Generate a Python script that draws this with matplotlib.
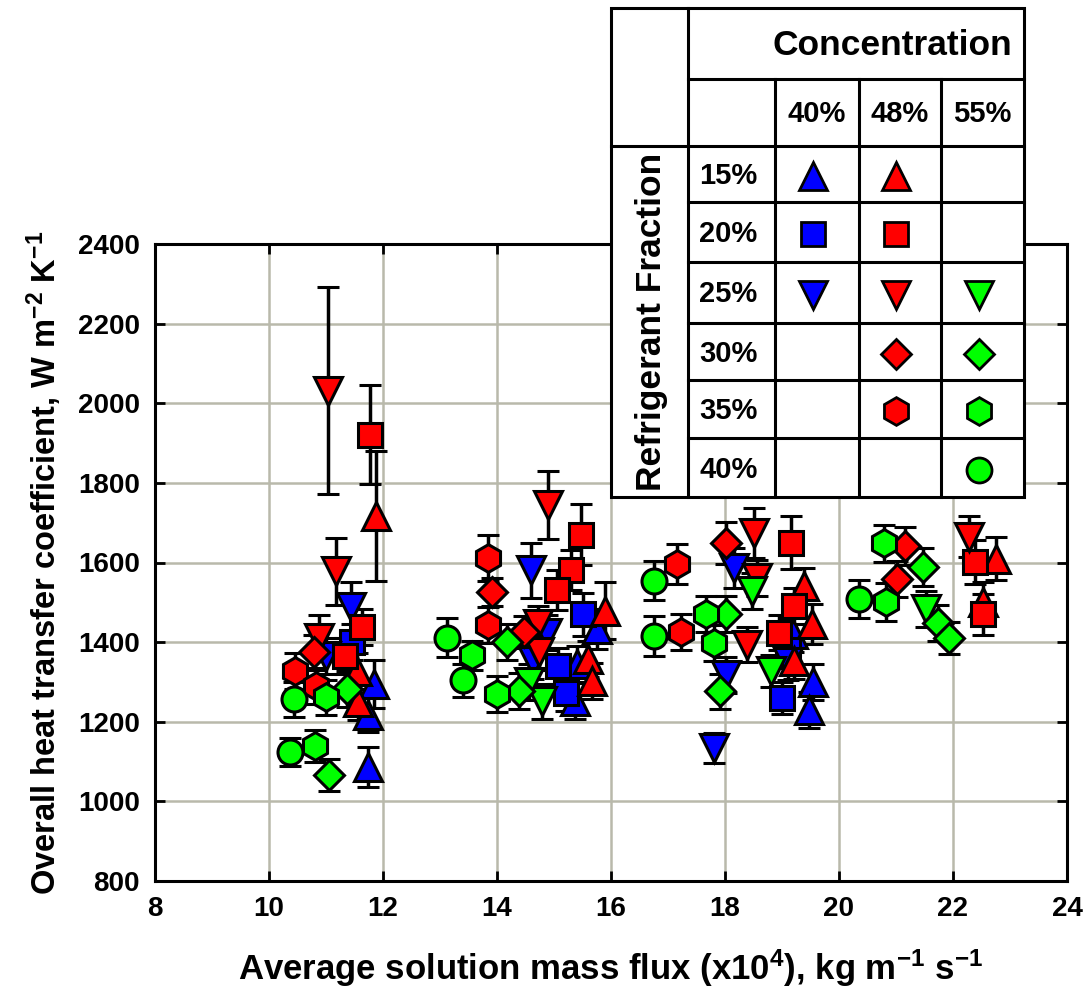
import matplotlib
matplotlib.use("Agg")
import matplotlib.pyplot as plt
from matplotlib.patches import Rectangle

plt.rcParams['font.family'] = ['Liberation Sans', 'DejaVu Sans']
plt.rcParams['font.weight'] = 'bold'
plt.rcParams['mathtext.fontset'] = 'custom'
plt.rcParams['mathtext.rm'] = 'Liberation Sans:bold'
plt.rcParams['mathtext.default'] = 'rm'

# ---- data: (mass flux x1e4, U, error) per concentration / refrigerant fraction
# 40% concentration (blue)
b15_x = [11.84, 11.73, 11.74, 15.75, 15.37, 15.40, 19.55, 19.47, 19.20]
b15_y = [1294, 1218, 1086, 1433, 1253, 1345, 1300, 1230, 1420]
b15_e = [60, 45, 50, 50, 45, 45, 45, 45, 45]
b20_x = [11.46, 15.50, 15.07, 15.21, 19.00, 19.10]
b20_y = [1400, 1470, 1340, 1273, 1260, 1380]
b20_e = [45, 54, 45, 45, 40, 45]
b25_x = [11.43, 11.00, 14.60, 14.88, 14.64, 18.16, 18.01, 17.81, 19.10]
b25_y = [1488, 1365, 1580, 1424, 1353, 1587, 1318, 1134, 1350]
b25_e = [63, 45, 68, 45, 45, 50, 45, 38, 45]
# 48% concentration (red)
r15_x = [11.87, 11.55, 11.57, 15.90, 15.60, 15.67, 19.39, 19.53, 19.21, 22.75, 22.53]
r15_y = [1716, 1327, 1250, 1479, 1357, 1303, 1541, 1445, 1352, 1610, 1500]
r15_e = [163, 45, 45, 72, 45, 45, 45, 50, 45, 55, 50]
r20_x = [11.77, 11.63, 11.33, 15.48, 15.30, 15.05, 19.15, 19.21, 18.95, 22.39, 22.53]
r20_y = [1921, 1438, 1366, 1670, 1582, 1530, 1650, 1491, 1424, 1602, 1470]
r20_e = [125, 45, 45, 77, 50, 50, 67, 45, 45, 55, 51]
r25_x = [11.04, 11.18, 10.88, 14.90, 14.72, 14.73, 18.51, 18.57, 18.39, 22.28]
r25_y = [2032, 1578, 1411, 1745, 1446, 1376, 1675, 1562, 1394, 1665]
r25_e = [260, 84, 58, 85, 45, 45, 63, 45, 45, 51]
r30_x = [10.79, 13.91, 14.47, 18.01, 21.16, 21.01]
r30_y = [1374, 1525, 1425, 1648, 1641, 1559]
r30_e = [45, 35, 40, 53, 47, 45]
r35_x = [10.45, 10.82, 13.84, 13.85, 17.16, 17.22]
r35_y = [1328, 1290, 1612, 1442, 1597, 1426]
r35_e = [45, 45, 58, 45, 50, 45]
# 55% concentration (green)
g25_x = [14.79, 14.56, 18.47, 18.80, 21.52]
g25_y = [1251, 1300, 1529, 1327, 1483]
g25_e = [45, 45, 45, 40, 45]
g30_x = [11.36, 11.06, 14.18, 14.38, 18.02, 17.92, 21.48, 21.73, 21.93]
g30_y = [1282, 1067, 1400, 1277, 1470, 1276, 1589, 1449, 1411]
g30_e = [45, 40, 45, 45, 45, 45, 48, 45, 40]
g35_x = [11.00, 10.81, 13.56, 14.00, 17.67, 17.81, 20.79, 20.82]
g35_y = [1261, 1140, 1367, 1270, 1470, 1398, 1648, 1500]
g35_e = [45, 40, 37, 45, 45, 45, 47, 48]
g40_x = [10.44, 10.36, 13.12, 13.41, 16.75, 16.75, 20.35]
g40_y = [1256, 1125, 1411, 1304, 1554, 1415, 1508]
g40_e = [45, 35, 49, 42, 49, 50, 47]

concentrations = ['40%', '48%', '55%']
fractions = ['15%', '20%', '25%', '30%', '35%', '40%']
colors = {'40%': '#0000ff', '48%': '#ff0000', '55%': '#00ff00'}
markers = {'15%': ('^', 20), '20%': ('s', 17), '25%': ('v', 20),
           '30%': ('D', 15.5), '35%': ('h', 20), '40%': ('o', 18)}

series = [('40%', '15%', b15_x, b15_y, b15_e),
          ('40%', '20%', b20_x, b20_y, b20_e),
          ('40%', '25%', b25_x, b25_y, b25_e),
          ('48%', '15%', r15_x, r15_y, r15_e),
          ('48%', '20%', r20_x, r20_y, r20_e),
          ('48%', '25%', r25_x, r25_y, r25_e),
          ('48%', '30%', r30_x, r30_y, r30_e),
          ('48%', '35%', r35_x, r35_y, r35_e),
          ('55%', '25%', g25_x, g25_y, g25_e),
          ('55%', '30%', g30_x, g30_y, g30_e),
          ('55%', '35%', g35_x, g35_y, g35_e),
          ('55%', '40%', g40_x, g40_y, g40_e)]

fig = plt.figure(figsize=(10.89, 10.0), dpi=100)
ax = fig.add_axes([155 / 1089, 1 - 881 / 1000, 912 / 1089, 637 / 1000])

for conc, frac, xs, ys, es in series:
    mk, ms = markers[frac]
    ax.errorbar(xs, ys, yerr=es, fmt=mk, ms=ms, mfc=colors[conc],
                mec='black', mew=2.2, ecolor='black', elinewidth=2.5,
                capsize=8, capthick=2.5, zorder=3)

ax.set_xlim(8, 24)
ax.set_ylim(800, 2400)
ax.set_xticks(range(8, 25, 2))
ax.set_yticks(range(800, 2401, 200))
ax.grid(True, color='#b9b9ab', linewidth=1.8, zorder=0)
ax.set_axisbelow(True)
ax.tick_params(direction='in', length=7, width=2, labelsize=20,
               top=True, right=True, pad=11)
for sp in ax.spines.values():
    sp.set_linewidth(2.2)
ax.set_xlabel('Average solution mass flux (x10$^{4}$), kg m$^{-1}$ s$^{-1}$',
              fontsize=25, fontweight='bold', labelpad=18)
ax.set_ylabel('Overall heat transfer coefficient, W m$^{-2}$ K$^{-1}$',
              fontsize=23.5, fontweight='bold', labelpad=10)

# ---- legend table drawn in pixel space
tab = fig.add_axes([0, 0, 1, 1], zorder=5)
tab.set_xlim(0, 1089)
tab.set_ylim(1000, 0)
tab.axis('off')
col_edges = [611, 688, 775, 859, 941, 1024]
row_edges = [8, 79, 146, 202, 262, 323, 380, 438, 497]
lw = 2.2
tab.add_patch(Rectangle((col_edges[0], row_edges[0]),
                        col_edges[-1] - col_edges[0],
                        row_edges[-1] - row_edges[0],
                        facecolor='white', edgecolor='black', linewidth=lw))
tab.plot([col_edges[1]] * 2, [row_edges[0], row_edges[-1]], color='black', lw=lw)
for cx in col_edges[2:5]:
    tab.plot([cx, cx], [row_edges[1], row_edges[-1]], color='black', lw=lw)
tab.plot([col_edges[1], col_edges[-1]], [row_edges[1]] * 2, color='black', lw=lw)
tab.plot([col_edges[0], col_edges[-1]], [row_edges[2]] * 2, color='black', lw=lw)
for ry in row_edges[3:-1]:
    tab.plot([col_edges[1], col_edges[-1]], [ry, ry], color='black', lw=lw)

tab.text(892, (row_edges[0] + row_edges[1]) / 2 + 2, 'Concentration',
         fontsize=25.5, fontweight='bold', ha='center', va='center')
tab.text((col_edges[0] + col_edges[1]) / 2 + 2, (row_edges[2] + row_edges[-1]) / 2,
         'Refrigerant Fraction', fontsize=25.5, fontweight='bold',
         rotation=90, ha='center', va='center')
for i, c in enumerate(concentrations):
    tab.text((col_edges[i + 2] + col_edges[i + 3]) / 2, (row_edges[1] + row_edges[2]) / 2 + 2,
             c, fontsize=21, fontweight='bold', ha='center', va='center')
for j, f in enumerate(fractions):
    yc = (row_edges[j + 2] + row_edges[j + 3]) / 2
    tab.text((col_edges[1] + col_edges[2]) / 2 - 3, yc + 2, f,
             fontsize=21, fontweight='bold', ha='center', va='center')

for conc, frac, xs, ys, es in series:
    i = concentrations.index(conc)
    j = fractions.index(frac)
    mk, ms = markers[frac]
    tab.plot((col_edges[i + 2] + col_edges[i + 3]) / 2 - 4,
             (row_edges[j + 2] + row_edges[j + 3]) / 2 + 2,
             marker=mk, ms=ms, mfc=colors[conc], mec='black', mew=2,
             linestyle='none')

fig.savefig('out.png', dpi=100)
